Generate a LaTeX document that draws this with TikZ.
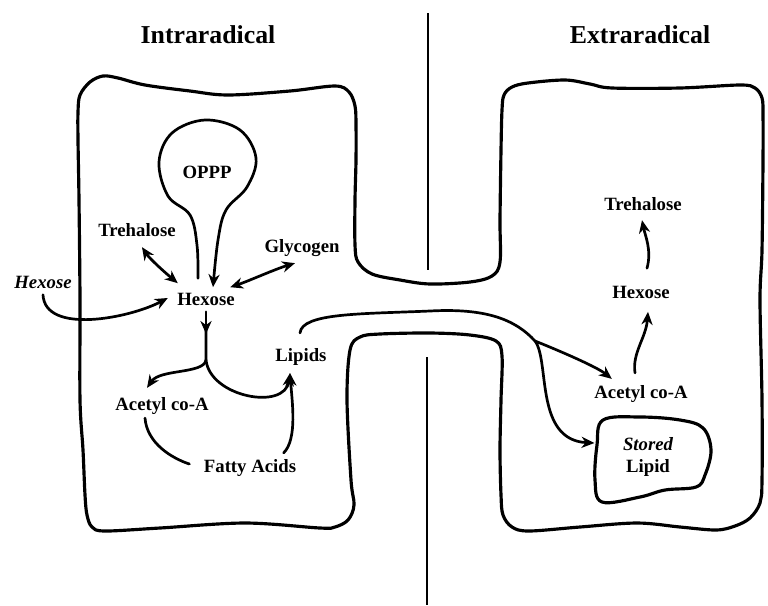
\documentclass[tikz,border=0pt]{standalone}
\usepackage{fontspec}
\setmainfont{Liberation Serif}
\usetikzlibrary{arrows.meta, calc}
\tikzset{
	lbl/.style={font=\bfseries\fontsize{16}{19.5}\selectfont, inner sep=2pt},
	heading/.style={font=\bfseries\fontsize{22}{24}\selectfont},
	wall/.style={line width=2.7pt, line join=round},
	divider/.style={line width=1.7pt},
	link/.style={line width=2.3pt, line cap=round},
	arrow/.style={link, -{Stealth[length=11pt, width=9.5pt, inset=3.5pt]}},
	twoway/.style={link, {Stealth[length=11pt, width=9.5pt, inset=3.5pt]}-{Stealth[length=11pt, width=9.5pt, inset=3.5pt]}},
}
\begin{document}
\begin{tikzpicture}[x=0.03cm, y=-0.03cm]
	\useasboundingbox (0,0) rectangle (768,605);
	\node[heading] (intra) at (208,35) {Intraradical};
	\node[heading] (extra) at (640,35) {Extraradical};
	\foreach \xx/\ya/\yb in {428/13/270, 427/357/605}{\draw[divider] (\xx,\ya) -- (\xx,\yb);}
	\draw[wall] plot[smooth cycle, tension=0.55] coordinates {
		(78,112) (80,95) (90,82) (103,76) (118,78) (145,85) (190,91) (228,95) (290,91) (335,86) (349,92) (355,106) (356,125) (356,160) (355,200) (355,245) (358,262) (372,274) (400,280) (430,284) (470,282) (492,276) (500,262) (500,220) (501,150) (502,110)
		(504,95) (512,87) (528,83) (565,80) (590,84) (612,88) (680,88) (740,85) (755,88) (762,98) (763,115) (763,160) (762,250) (760,300) (762,400) (762,480) (760,503) (750,518) (735,526) (716,530) (680,527) (637,523) (580,527) (529,531) (512,527) (503,515) (501,495) (500,450) (501,400) (502,356)
		(496,341) (470,335) (430,333) (380,334) (360,337) (350,350) (347,400) (351,480) (354,505) (348,520) (335,527) (320,528) (245,523) (160,528) (105,531) (92,527) (87,515) (85,495) (83,450) (80,400) (80,300) (79,200) (78,140)};
	\draw[wall] plot[smooth cycle, tension=0.6] coordinates {(603,420) (640,417) (680,420) (703,428) (711,450) (705,475) (696,487) (665,490) (640,497) (602,502) (595,480) (597,445)};
	\node[lbl] (oppp) at (207,172) {OPPP};
	\node[lbl] (trehL) at (137,230) {Trehalose};
	\node[lbl] (glyc) at (302,248) {Glycogen};
	\node[lbl] (hexOut) at (43,282) {\itshape Hexose};
	\node[lbl] (hexL) at (206,299) {Hexose};
	\node[lbl] (lipids) at (301,357) {Lipids};
	\node[lbl] (acetL) at (162,406) {Acetyl co-A};
	\node[lbl] (fatty) at (250,468) {Fatty Acids};
	\node[lbl] (trehR) at (643,204) {Trehalose};
	\node[lbl] (hexR) at (641,292) {Hexose};
	\node[lbl] (acetR) at (641,394) {Acetyl co-A};
	\node[lbl, minimum width=3.2cm, align=center] (stored) at (648,457) {{\itshape Stored}\\Lipid};
	\coordinate (stemL) at ([shift={(-8,-12)}]hexL.north);
	\coordinate (stemR) at ([shift={(7,-3)}]hexL.north);
	\coordinate (fork) at (206,360);
	\coordinate (chan) at (430,311);
	\coordinate (split) at (535,341);
	\draw[arrow] plot[smooth, tension=0.6] coordinates {(stemL) (197,245) (190,215) (168,196) (159,162) (172,133) (205,120) (240,130) (256,158) (247,187) (226,210) (218,240) (stemR)};
	\draw[twoway] ([shift={(5,8)}]trehL.south) .. controls +(8,12) and +(-12,-10) .. ([shift={(3,-7)}]hexL.north west);
	\draw[twoway] ([shift={(-7,4)}]glyc.south) .. controls +(-20,6) and +(18,-6) .. ([shift={(-7,-3)}]hexL.north east);
	\draw[arrow] ([shift={(0,4)}]hexOut.south) .. controls (45,335) and (130,318) .. ([shift={(-7,-1)}]hexL.west);
	\draw[arrow] ([shift={(0,4)}]hexL.south) -- ($(hexL.south)!0.5!(fork)$);
	\draw[link] ($(hexL.south)!0.4!(fork)$) -- (fork);
	\draw[arrow] (fork) .. controls +(-2,14) and +(13,-19) .. ([shift={(-15,-7)}]acetL.north);
	\draw[arrow] (fork) .. controls +(4,37) and +(-5,38) .. ([shift={(-11,5)}]lipids.south);
	\draw[link] ([shift={(-17,1)}]acetL.south) .. controls +(2,25) and +(-18,-6) .. ([shift={(-12,-4)}]fatty.west);
	\draw[arrow] ([shift={(-15,-4)}]fatty.north east) .. controls +(14,-14) and +(2,28) .. ([shift={(-11,5)}]lipids.south);
	\draw[link] ([shift={(-1,-13)}]lipids.north) .. controls +(2,-20) and +(-70,3) .. (chan) .. controls +(55,-3) and +(-20,-22) .. (split);
	\draw[arrow] (split) .. controls +(25,10) and +(-15,-12) .. ([shift={(20,-4)}]acetR.north west);
	\draw[arrow] (split) .. controls +(15,20) and +(-60,-3) .. ([shift={(0,-14)}]stored.west);
	\draw[arrow] ([shift={(-6,-10)}]acetR.north) .. controls +(-3,-20) and +(-2,26) .. ([shift={(7,11)}]hexR.south);
	\draw[arrow] ([shift={(6,-15)}]hexR.north) .. controls +(5,-18) and +(3,15) .. ([shift={(-1,7)}]trehR.south);
\end{tikzpicture}
\end{document}
